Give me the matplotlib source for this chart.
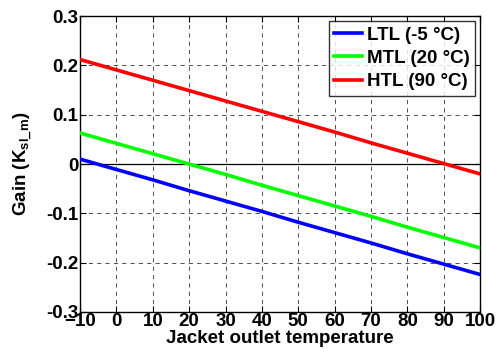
import matplotlib
matplotlib.use("Agg")
import matplotlib.pyplot as plt

plt.rcParams['font.family'] = ['Liberation Sans', 'DejaVu Sans']
plt.rcParams['font.weight'] = 'bold'
plt.rcParams['mathtext.fontset'] = 'custom'
plt.rcParams['mathtext.rm'] = 'Liberation Sans:bold'
plt.rcParams['mathtext.bf'] = 'Liberation Sans:bold'
plt.rcParams['mathtext.it'] = 'Liberation Sans:bold'

temperature = [-10, 0, 10, 20, 30, 40, 50, 60, 70, 80, 90, 100]
gain_ltl = [0.010, -0.011, -0.032, -0.054, -0.075, -0.096, -0.118, -0.139, -0.160, -0.182, -0.203, -0.224]
gain_mtl = [0.063, 0.042, 0.021, 0.000, -0.021, -0.043, -0.064, -0.085, -0.106, -0.128, -0.149, -0.170]
gain_htl = [0.212, 0.191, 0.170, 0.149, 0.128, 0.107, 0.086, 0.065, 0.043, 0.022, 0.001, -0.020]
series_labels = ['LTL (-5 °C)', 'MTL (20 °C)', 'HTL (90 °C)']
series_colors = ['#0000ff', '#00ff00', '#ff0000']
x_ticks = [-10, 0, 10, 20, 30, 40, 50, 60, 70, 80, 90, 100]
y_ticks = [-0.3, -0.2, -0.1, 0, 0.1, 0.2, 0.3]
y_ticklabels = ['-0.3', '-0.2', '-0.1', '0', '0.1', '0.2', '0.3']

FS = 13.5

fig = plt.figure(figsize=(4.97, 3.59), dpi=100)
ax = fig.add_axes([0.161, 0.131, 0.805, 0.824])

ax.axhline(0, color='black', linewidth=0.9, zorder=1)
for y, lab, col in zip([gain_ltl, gain_mtl, gain_htl], series_labels, series_colors):
    ax.plot(temperature, y, color=col, linewidth=2.6, label=lab, zorder=3)

ax.set_xlim(-10, 100)
ax.set_ylim(-0.3, 0.3)
ax.set_xticks(x_ticks)
ax.set_yticks(y_ticks)
ax.set_yticklabels(y_ticklabels)
ax.grid(True, color='black', linestyle=(0, (5, 5)), linewidth=0.6, alpha=0.8)
ax.tick_params(direction='in', top=True, right=True, length=4, width=0.8,
               labelsize=FS, pad=1)
for lbl in ax.get_xticklabels() + ax.get_yticklabels():
    lbl.set_fontweight('bold')
for s in ax.spines.values():
    s.set_linewidth(1.0)

ax.set_xlabel('Jacket outlet temperature', fontsize=FS, fontweight='bold', labelpad=0)
ax.set_ylabel(r'Gain (K$_{\mathbf{sl\_m}}$)', fontsize=FS, fontweight='bold', labelpad=8)

leg = ax.legend(loc='upper right', fontsize=FS, frameon=True, fancybox=False,
                edgecolor='black', handlelength=1.5, handletextpad=0.25,
                borderpad=0.3, labelspacing=0.33, borderaxespad=0.25)
leg.get_frame().set_linewidth(1.0)
for t in leg.get_texts():
    t.set_fontweight('bold')

fig.savefig('out.png', dpi=100)
